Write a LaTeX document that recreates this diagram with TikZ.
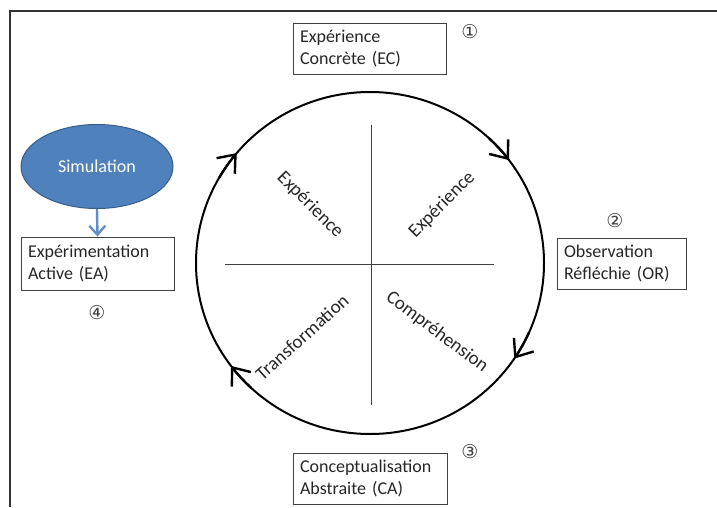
\documentclass[tikz,border=0pt]{standalone}
\usepackage{fontspec}
\setmainfont{Carlito}
\newfontfamily\symfont{DejaVu Sans}
\usetikzlibrary{shapes.geometric,arrows.meta}
\definecolor{simfill}{HTML}{4F81BD}
\definecolor{simdraw}{HTML}{385D8A}
\definecolor{txt}{HTML}{262626}
\tikzset{
  stagebox/.style={draw=black!75, line width=0.9pt, align=left, inner xsep=7pt, inner ysep=3pt,
    minimum height=51pt, text=txt, font=\fontsize{18}{22}\selectfont, anchor=center},
  circnum/.style={font=\symfont\fontsize{19}{19}\selectfont, text=black!75},
  quadlabel/.style={font=\fontsize{19}{22}\selectfont, text=txt},
  cyc/.style={line width=2pt, black},
  cycarrow/.style={line width=2.4pt, black, -{Straight Barb[length=15pt,width=24pt]}},
}
\begin{document}
\begin{tikzpicture}[x=1pt,y=1pt]
\useasboundingbox (0,0) rectangle (717,507);
% frame
\draw[line width=2.2pt, black!80] (10,0) -- (10,496) -- (717,496);
% cycle
\coordinate (c) at (370,244);
\draw[cyc] (c) ellipse[x radius=174, y radius=171];
\foreach \a in {140,37,-34,217} {
  \draw[cycarrow] (c) ++(\a+10:174 and 171) arc[start angle=\a+10, end angle=\a, x radius=174, y radius=171];
}
% cross
\coordinate (vt) at (371,382);
\coordinate (vb) at (371,102);
\coordinate (hl) at (225,243);
\coordinate (hr) at (494,243);
\draw[line width=0.9pt, black!75] (vt) -- (vb);
\draw[line width=0.9pt, black!75] (hl) -- (hr);
% quadrant labels
\node[quadlabel, rotate=-45] (q1) at (310,302) {Expérience};
\node[quadlabel, rotate=45] (q2) at (442,302) {Expérience};
\node[quadlabel, rotate=42] (q3) at (302,170) {Transformation};
\node[quadlabel, rotate=-37] (q4) at (437,175) {Compréhension};
% stage boxes
\node[stagebox, text width=139pt] (ec) at (369.5,458.5) {Expérience\\Concrète (EC)};
\node[stagebox, text width=115pt] (or) at (621.5,243.5) {Observation\\Réfléchie (OR)};
\node[stagebox, text width=140pt] (ca) at (370,28.5) {Conceptualisation\\Abstraite (CA)};
\node[stagebox, text width=139pt, minimum height=53pt] (ea) at (97.5,243.5) {Expérimentation\\Active (EA)};
% numbers
\node[circnum] (n1) at (470,475) {①};
\node[circnum] (n2) at (615,286) {②};
\node[circnum] (n3) at (470,55) {③};
\node[circnum] (n4) at (97,194) {④};
% simulation
\node[ellipse, draw=simdraw, fill=simfill, line width=1pt, minimum width=152pt, minimum height=84pt,
  text=white, font=\fontsize{18}{22}\selectfont] (sim) at (97,340.5) {Simulation};
\draw[line width=2.4pt, simfill!90!white, -{Straight Barb[length=9pt,width=16pt]}] (sim.south) -- (ea.north);
\end{tikzpicture}
\end{document}
